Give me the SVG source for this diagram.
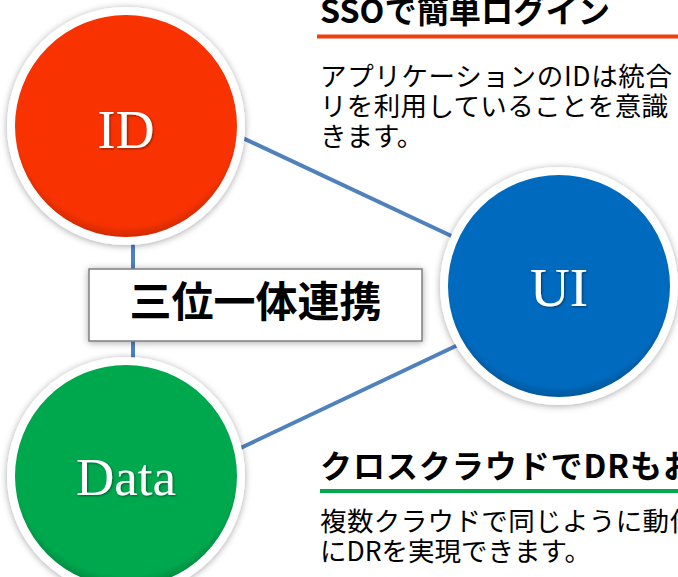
<svg xmlns="http://www.w3.org/2000/svg" width="678" height="577" viewBox="0 0 678 577">
<defs>
<style>
.conn{stroke:#4F81BD;stroke-width:4;fill:none}
.ring{stroke:#FFFFFF;stroke-width:8}
.lbl{font-family:"Liberation Serif","DejaVu Serif",serif;fill:#FFFFFF;text-anchor:middle}
.jp{font-family:"Noto Sans CJK JP","Noto Sans",sans-serif;fill:#000000}
.h{font-weight:bold;font-size:32px}
.b{font-size:26.5px}
</style>
<filter id="sh" x="-20%" y="-20%" width="140%" height="140%">
<feDropShadow dx="0" dy="1" stdDeviation="3.5" flood-color="#000" flood-opacity="0.35"/>
</filter>
<filter id="tsh" x="-20%" y="-20%" width="140%" height="140%">
<feDropShadow dx="1" dy="1" stdDeviation="1" flood-color="#000" flood-opacity="0.45"/>
</filter>
<radialGradient id="gR" cx="50%" cy="45%" r="55%">
<stop offset="0.88" stop-color="#F83200"/>
<stop offset="1" stop-color="#C42800"/>
</radialGradient>
<radialGradient id="gB" cx="50%" cy="45%" r="55%">
<stop offset="0.88" stop-color="#006BBF"/>
<stop offset="1" stop-color="#00508F"/>
</radialGradient>
<radialGradient id="gG" cx="50%" cy="45%" r="55%">
<stop offset="0.88" stop-color="#00A84E"/>
<stop offset="1" stop-color="#007E3A"/>
</radialGradient>
</defs>
<rect width="678" height="577" fill="#FFFFFF"/>
<g id="connectors">
<line class="conn" x1="230" y1="132" x2="460" y2="240"/>
<line class="conn" x1="230" y1="453" x2="460" y2="344"/>
<line class="conn" x1="133" y1="230" x2="133" y2="370"/>
</g>
<g id="node-id">
<circle cx="126" cy="126" r="115" class="ring" fill="url(#gR)" filter="url(#sh)"/>
<text class="lbl" x="126" y="148" font-size="54" filter="url(#tsh)">ID</text>
</g>
<g id="node-ui">
<circle cx="559" cy="286" r="115" class="ring" fill="url(#gB)" filter="url(#sh)"/>
<text class="lbl" x="559" y="306" font-size="55" filter="url(#tsh)">UI</text>
</g>
<g id="node-data">
<circle cx="126" cy="476" r="115" class="ring" fill="url(#gG)" filter="url(#sh)"/>
<text class="lbl" x="126" y="495" font-size="53" filter="url(#tsh)">Data</text>
</g>
<g id="node-center">
<rect x="89" y="269" width="333" height="72" fill="#FFFFFF" stroke="#7F7F7F" stroke-width="1.5" filter="url(#sh)"/>
<text class="jp" x="255.5" y="317" font-size="42" font-weight="bold" text-anchor="middle">三位一体連携</text>
</g>
<g id="node-sso">
<text class="jp h" x="320" y="23" textLength="290" lengthAdjust="spacingAndGlyphs">SSOで簡単ログイン</text>
<rect x="317" y="34.5" width="361" height="4" fill="#F53D0E"/>
<text class="jp b" x="320" y="86" textLength="352" lengthAdjust="spacing">アプリケーションのIDは統合</text>
<text class="jp b" x="320" y="116" textLength="348" lengthAdjust="spacing">リを利用していることを意識</text>
<text class="jp b" x="320" y="146">きます。</text>
</g>
<g id="node-dr">
<text class="jp h" x="320" y="478" textLength="375" lengthAdjust="spacing">クロスクラウドでDRもお</text>
<rect x="320" y="489" width="358" height="4" fill="#00A84E"/>
<text class="jp b" x="320" y="531" textLength="376" lengthAdjust="spacing">複数クラウドで同じように動作</text>
<text class="jp b" x="320" y="561">にDRを実現できます。</text>
</g>
</svg>
